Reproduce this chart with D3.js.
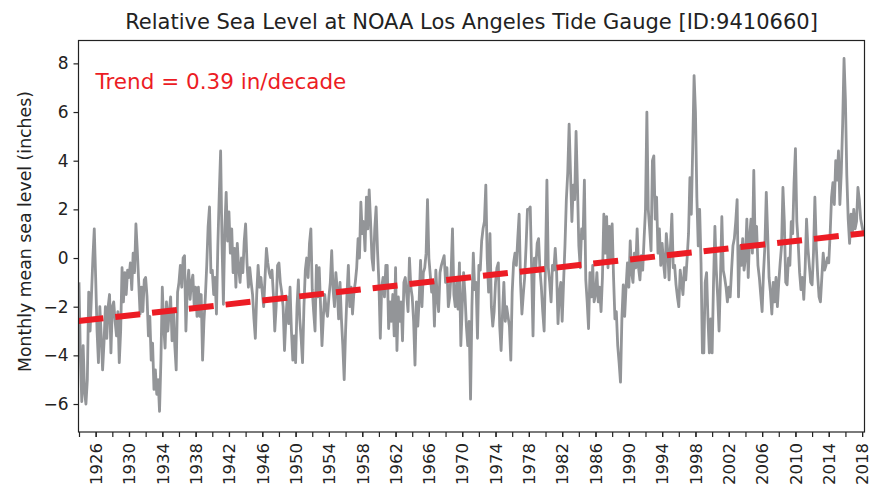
<!DOCTYPE html>
<html>
  <head>
    <meta charset="utf-8">
    <title>Relative Sea Level at NOAA Los Angeles Tide Gauge</title>
    <script src="https://d3js.org/d3.v7.min.js"></script>
    <style>
      body { margin: 0; background: #fff; }
      text { font-family: "DejaVu Sans", sans-serif; }
    </style>
  </head>
  <body>
    <div id="chart"></div>
    <script>
      // Monthly mean sea level (inches), every two months, 1924 onward
      var startYear = 1924;
      var stepsPerYear = 6;
      var seaLevel = [
        -1.0, -4.0, -5.9, -3.6, -5.5, -6.0,  // 1924
        -5.0, -1.4, -3.0, -1.5,  0.0,  1.2,  // 1925
        -0.8, -3.0, -4.3, -2.0, -3.2, -4.6,  // 1926
        -3.5, -2.0, -3.3, -2.0, -1.5, -3.9,  // 1927
        -2.0, -1.8, -2.6, -3.2, -2.2, -4.3,  // 1928
        -3.0, -0.4, -1.8, -0.6, -1.5, -0.5,  // 1929
        -0.8, -0.2, -1.3,  0.2, -0.6,  1.4,  // 1930
         0.3, -1.0, -2.3, -1.2, -2.2, -0.9,  // 1931
        -0.8, -1.6, -3.2, -2.4, -4.2, -3.5,  // 1932
        -5.4, -4.6, -5.6, -5.0, -6.3, -4.2,  // 1933
        -1.2, -2.8, -3.7, -1.8, -3.0, -2.2,  // 1934
        -1.6, -3.4, -2.1, -3.6, -4.6, -1.4,  // 1935
        -1.0, -0.3, -1.2,  0.0,  0.1, -3.0,  // 1936
        -1.2, -0.5, -1.7, -1.0, -0.7, -2.0,  // 1937
        -1.2, -2.4, -1.2, -2.4, -1.5, -4.2,  // 1938
        -2.6, -1.6, -0.3,  1.3,  2.1, -0.6,  // 1939
        -0.5, -1.5, -0.8, -2.3,  0.5,  2.6,  // 1940
         4.4,  0.6, -1.9,  1.2,  2.7,  0.7,  // 1941
         1.9,  0.2,  1.2, -0.6,  0.4, -1.2,  // 1942
         0.6, -0.4, -1.0,  0.0, -0.6,  0.7,  // 1943
         1.4, -0.2, -1.2, -0.4, -1.0, -1.5,  // 1944
        -2.5, -3.3, -1.5, -0.3, -1.2, -0.8,  // 1945
        -1.4, -2.0, -0.8,  0.4, -0.2, -0.6,  // 1946
        -0.8, -0.5, -1.5, -3.0, -2.0, -0.3,  // 1947
        -0.2, -1.0, -1.4, -2.0, -3.8, -2.5,  // 1948
        -1.6, -2.7, -1.2, -3.0, -4.2, -3.2,  // 1949
        -4.3, -2.0, -0.9, -2.5, -3.3, -4.3,  // 1950
        -2.0, -0.5,  0.0, -0.8,  0.6,  1.2,  // 1951
        -1.3, -2.2, -3.0, -0.3, -1.6, -0.4,  // 1952
        -2.0, -3.6, -2.4, -1.5, -2.1, -2.4,  // 1953
        -1.6, -1.0,  0.3, -1.3, -2.0, -0.6,  // 1954
        -1.3, -2.5, -1.0, -2.5, -3.6, -5.0,  // 1955
        -3.0, -1.5, -0.3, -2.0, -1.2, -2.3,  // 1956
        -1.4, -1.0, -0.4,  0.8,  0.0,  2.3,  // 1957
         1.0,  1.5,  0.3,  2.5,  1.2,  2.8,  // 1958
         1.5,  0.0, -0.5,  1.2,  2.1,  0.3,  // 1959
        -1.0, -3.3, -1.2, -0.8, -1.6, -0.3,  // 1960
        -0.3, -2.9, -1.8, -2.6, -1.5, -3.2,  // 1961
        -0.4, -3.8, -1.6, -2.6, -1.8, -3.4,  // 1962
        -1.0, -0.8, -1.5, -2.2,  0.0, -1.2,  // 1963
        -1.6, -2.6, -4.4, -1.8, -2.8, -1.7,  // 1964
        -0.1, -2.0, -0.6, -0.4,  0.2,  2.4,  // 1965
         0.0, -0.7, -1.4, -1.0, -2.8, -0.5,  // 1966
        -1.6, -2.2, -0.6, -0.3, -0.1,  0.1,  // 1967
        -1.0, -0.4, -2.0, -1.6, -0.6,  1.2,  // 1968
        -1.5, -2.0, -1.0, -2.1, -0.2, -3.6,  // 1969
        -2.0, -0.6, -1.5, -2.8, -3.6, -2.6,  // 1970
        -5.8, -2.0,  0.2, -1.3, -1.0, -3.3,  // 1971
        -0.3, -0.5,  0.7,  1.2,  1.5,  3.0,  // 1972
         0.0, -1.4,  1.0, -2.0, -2.8, -2.2,  // 1973
        -1.0, -0.4, -0.2, -2.8, -3.8, -2.3,  // 1974
        -1.0, -2.6, -2.0, -2.4, -2.8, -4.2,  // 1975
        -1.4, -0.2,  0.2, -0.3,  0.8,  1.8,  // 1976
        -1.0, -2.3, -1.5, -0.8,  0.5,  2.0,  // 1977
         2.0,  2.1, -0.5, -3.2,  0.0, -0.4,  // 1978
         0.6,  0.8, -0.5, -1.2, -2.2, -3.0,  // 1979
        -0.2,  3.2, -0.4, -1.0, -1.8, -0.3,  // 1980
        -0.5,  0.4, -0.6, -2.7, -1.4, -1.0,  // 1981
        -2.6, -1.0,  0.5,  2.4,  3.5,  5.5,  // 1982
         3.5,  1.5,  3.0,  2.4,  5.2,  3.0,  // 1983
         0.5, -0.4,  1.2,  0.8,  3.2, -0.9,  // 1984
        -1.8, -2.9, -0.6, -1.6, -0.3, -1.8,  // 1985
        -1.5, -0.6, -1.8, -1.2, -2.2, -0.8,  // 1986
         1.8,  0.2,  1.7, -0.4,  1.3,  0.0,  // 1987
         1.4, -0.8, -2.5, -2.2, -3.6, -4.3,  // 1988
        -5.1, -2.5, -1.1, -2.4, -1.2, -0.2,  // 1989
        -1.2,  0.7, -0.6, -1.0,  0.2, -0.4,  // 1990
         1.2, -0.4, -0.9,  0.1, -0.5,  0.8,  // 1991
         2.0,  6.0,  2.0,  1.2,  0.3,  4.0,  // 1992
         4.2,  1.6,  2.5,  0.2,  1.2, -0.3,  // 1993
         0.6, -0.2, -0.8,  1.0,  0.3, -0.9,  // 1994
         0.5,  1.8, -0.4, -0.3, -1.1, -1.6,  // 1995
        -2.0, -0.5, -1.0, -1.5, -0.4, -0.9,  // 1996
         0.0,  1.0,  3.3,  1.8,  4.5,  7.5,  // 1997
         6.0,  2.5,  0.5,  2.0, -0.2, -3.9,  // 1998
        -3.9, -1.0, -0.6, -2.5, -3.9, -2.5,  // 1999
        -3.9, -1.0,  1.3, -0.5, -1.6, -3.0,  // 2000
        -0.8,  1.7, -0.5, -0.8, -1.2, -1.8,  // 2001
        -1.2, -1.6, -0.5,  0.5,  0.8,  1.5,  // 2002
         2.4, -1.6,  0.5, -0.3,  0.8, -0.5,  // 2003
         0.0,  1.6, -0.8,  0.9,  1.6,  0.2,  // 2004
         3.6,  0.5,  1.3, -0.3, -0.8, -1.5,  // 2005
        -2.2, -0.6,  0.5,  2.7,  1.0, -0.8,  // 2006
        -1.4, -2.3, -1.0, -1.8, -0.8, -2.0,  // 2007
        -1.0, -0.2,  0.5,  2.9,  1.5, -1.0,  // 2008
        -1.1,  0.0, -0.3,  1.5,  1.0,  3.1,  // 2009
         4.5,  1.5,  0.6, -0.6, -1.3, -0.8,  // 2010
        -1.7, -0.4,  1.6,  0.4, -0.3, -1.0,  // 2011
        -1.1,  0.2,  2.5,  0.5, -0.7, -1.6,  // 2012
        -1.8, -0.8,  0.2, -0.5, -0.3,  0.0,  // 2013
        -0.2,  1.0,  2.5,  3.1,  2.2,  4.0,  // 2014
         3.2,  4.4,  2.2,  3.5,  5.5,  8.2,  // 2015
         6.5,  3.4,  1.6,  0.6,  1.8,  1.0,  // 2016
         2.0,  1.2,  1.5,  2.9,  2.4,  1.6,  // 2017
         1.3,  1.0                           // 2018
      ];

      // Linear trend (0.39 in/decade), ends at the plot edges
      var trendYears = [1923.94, 2018.29];
      var trendValues = [-2.59, 1.02];
      var trendLabel = "Trend = 0.39 in/decade";

      var yTicks = [-6, -4, -2, 0, 2, 4, 6, 8];
      var xMajorTicks = d3.range(1926, 2019, 4);
      var xMinorTicks = d3.range(1924, 2019, 2);

      var data = seaLevel.map(function(v, i) {
        return { year: startYear + i / stepsPerYear, level: v };
      });

      var margin = { top: 40.5, right: 10.5, bottom: 57, left: 78.5 },
          width = 875 - margin.left - margin.right,
          height = 489 - margin.top - margin.bottom;

      var svg = d3.select("#chart")
                  .append("svg")
                  .attr("width", 875)
                  .attr("height", 489);

      var g = svg.append("g")
                 .attr("transform", "translate(" + margin.left + "," + margin.top + ")");

      var xScale = d3.scaleLinear().domain([1923.94, 2018.29]).range([0, width]);
      var yScale = d3.scaleLinear().domain([-7.15, 8.94]).range([height, 0]);

      // clip path for the data
      g.append("clipPath").attr("id", "clip")
       .append("rect").attr("width", width).attr("height", height);

      // sea level line
      var line = d3.line()
                   .x(function(d) { return xScale(d.year); })
                   .y(function(d) { return yScale(d.level); });

      g.append("path")
       .datum(data)
       .attr("clip-path", "url(#clip)")
       .attr("fill", "none")
       .attr("stroke", "#939598")
       .attr("stroke-width", 2.8)
       .attr("stroke-linejoin", "round")
       .attr("d", line);

      // trend line
      var trend = trendYears.map(function(y, i) { return { year: y, level: trendValues[i] }; });
      g.append("path")
       .datum(trend)
       .attr("fill", "none")
       .attr("stroke", "#ec1c24")
       .attr("stroke-width", 6)
       .attr("stroke-dasharray", "25,12")
       .attr("d", line);

      // frame
      g.append("rect")
       .attr("width", width).attr("height", height)
       .attr("fill", "none").attr("stroke", "#222").attr("stroke-width", 1.2);

      // y axis
      var yAxis = g.append("g")
                   .call(d3.axisLeft(yScale).tickValues(yTicks).tickSize(5).tickPadding(5));
      yAxis.select(".domain").remove();
      yAxis.selectAll("line").attr("stroke", "#222").attr("stroke-width", 1.2);
      yAxis.selectAll("text").attr("font-size", 17).attr("fill", "#222")
           .style("font-family", "DejaVu Sans");

      // x minor ticks
      var xMinor = g.append("g")
                    .attr("transform", "translate(0," + height + ")")
                    .call(d3.axisBottom(xScale).tickValues(xMinorTicks).tickSize(5).tickFormat(""));
      xMinor.select(".domain").remove();
      xMinor.selectAll("line").attr("stroke", "#222").attr("stroke-width", 1.2);

      // x major ticks with rotated labels
      var xAxis = g.append("g")
                   .attr("transform", "translate(0," + height + ")")
                   .call(d3.axisBottom(xScale).tickValues(xMajorTicks).tickSize(5).tickFormat(d3.format("d")));
      xAxis.select(".domain").remove();
      xAxis.selectAll("line").attr("stroke", "#222").attr("stroke-width", 1.2);
      xAxis.selectAll("text")
           .attr("font-size", 16.5).attr("fill", "#222")
           .style("font-family", "DejaVu Sans")
           .attr("transform", "rotate(-90)")
           .attr("text-anchor", "end")
           .attr("x", -11)
           .attr("y", 0)
           .attr("dy", "0.35em");

      // title
      svg.append("text")
         .attr("x", margin.left + width / 2)
         .attr("y", 29)
         .attr("text-anchor", "middle")
         .attr("font-size", 21)
         .attr("fill", "#222")
         .text("Relative Sea Level at NOAA Los Angeles Tide Gauge [ID:9410660]");

      // y axis label
      svg.append("text")
         .attr("transform", "translate(31," + (margin.top + 191) + ") rotate(-90)")
         .attr("text-anchor", "middle")
         .attr("font-size", 17.3)
         .attr("fill", "#222")
         .text("Monthly mean sea level (inches)");

      // trend annotation
      g.append("text")
       .attr("x", 17)
       .attr("y", 48)
       .attr("font-size", 21.5)
       .attr("fill", "#ec1c24")
       .text(trendLabel);
    </script>
  </body>
</html>
